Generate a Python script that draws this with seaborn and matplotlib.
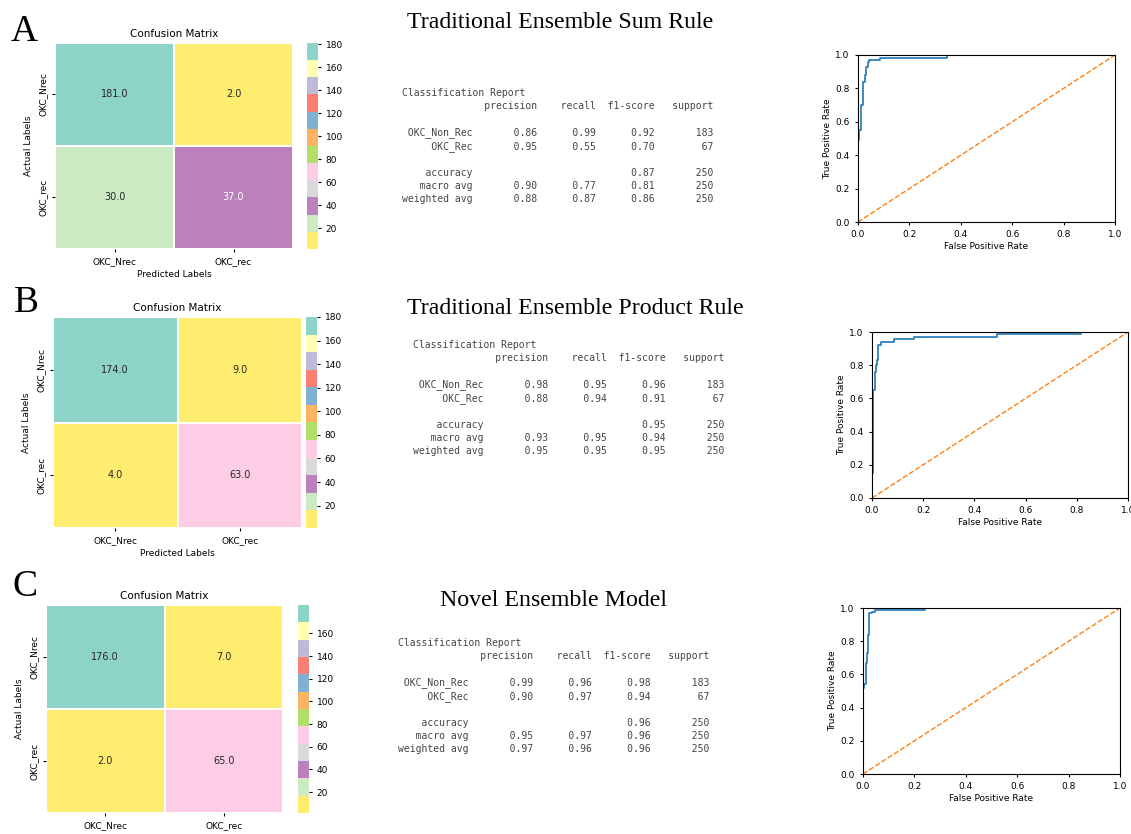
import numpy as np
import pandas as pd
import matplotlib
matplotlib.use("Agg")
import matplotlib.pyplot as plt
import seaborn as sns

# ---- data ----
class_ticks = ["OKC_Nrec", "OKC_rec"]
report_names = ["OKC_Non_Rec", "OKC_Rec"]
panel_titles = ["Traditional Ensemble Sum Rule",
                "Traditional Ensemble Product Rule",
                "Novel Ensemble Model"]
panel_letters = ["A", "B", "C"]

cm_sum = [[181, 2], [30, 37]]
cm_prod = [[174, 9], [4, 63]]
cm_novel = [[176, 7], [2, 65]]

# colour-bar ranges as they appear on each bar
crange_sum = (2, 181)
crange_prod = (1, 180)
crange_novel = (1.5, 185)

cbar_ticks_sum = [20, 40, 60, 80, 100, 120, 140, 160, 180]
cbar_ticks_prod = [20, 40, 60, 80, 100, 120, 140, 160, 180]
cbar_ticks_novel = [20, 40, 60, 80, 100, 120, 140, 160]

# precision / recall / f1 per class, then accuracy, macro, weighted
prec_sum = [0.86, 0.95]
rec_sum = [0.99, 0.55]
f1_sum = [0.92, 0.70]
acc_sum = 0.87
macro_sum = [0.90, 0.77, 0.81]
weighted_sum = [0.88, 0.87, 0.86]

prec_prod = [0.98, 0.88]
rec_prod = [0.95, 0.94]
f1_prod = [0.96, 0.91]
acc_prod = 0.95
macro_prod = [0.93, 0.95, 0.94]
weighted_prod = [0.95, 0.95, 0.95]

prec_novel = [0.99, 0.90]
rec_novel = [0.96, 0.97]
f1_novel = [0.98, 0.94]
acc_novel = 0.96
macro_novel = [0.95, 0.97, 0.96]
weighted_novel = [0.97, 0.96, 0.96]

support = [183, 67]

# ROC curves (corner points)
fpr_sum = [0, 0, 0.005, 0.005, 0.01, 0.01, 0.02, 0.02, 0.027, 0.027, 0.033, 0.033,
           0.038, 0.038, 0.044, 0.044, 0.085, 0.085, 0.345, 0.345, 1.0]
tpr_sum = [0, 0.49, 0.49, 0.55, 0.55, 0.70, 0.70, 0.84, 0.84, 0.88, 0.88, 0.93,
           0.93, 0.96, 0.96, 0.97, 0.97, 0.985, 0.985, 1.0, 1.0]

fpr_prod = [0, 0, 0.005, 0.005, 0.01, 0.01, 0.015, 0.015, 0.02, 0.02, 0.025, 0.025,
            0.035, 0.035, 0.085, 0.085, 0.165, 0.165, 0.49, 0.49, 0.815, 0.815, 1.0]
tpr_prod = [0, 0.15, 0.15, 0.65, 0.65, 0.76, 0.76, 0.80, 0.80, 0.83, 0.83, 0.92,
            0.92, 0.94, 0.94, 0.955, 0.955, 0.97, 0.97, 0.985, 0.985, 1.0, 1.0]

fpr_novel = [0, 0, 0.005, 0.005, 0.01, 0.01, 0.015, 0.015, 0.018, 0.018, 0.022, 0.022,
             0.035, 0.035, 0.045, 0.045, 0.24, 0.24, 1.0]
tpr_novel = [0, 0.52, 0.52, 0.54, 0.54, 0.67, 0.67, 0.73, 0.73, 0.84, 0.84, 0.97,
             0.97, 0.975, 0.975, 0.985, 0.985, 1.0, 1.0]

W, H = 1131, 834
fig = plt.figure(figsize=(W / 100, H / 100), dpi=100)


def box(l, t, r, b):
    return [l / W, 1 - b / H, (r - l) / W, (b - t) / H]


def report_text(prec, rec, f1, acc, macro, weighted):
    lines = ["Classification Report"]
    lines.append("{:>12s} ".format("") + "".join(" {:>9}".format(h) for h in
                 ["precision", "recall", "f1-score", "support"]))
    lines.append("")
    for i, name in enumerate(report_names):
        lines.append("{:>12s} ".format(name) +
                     " {:>9.2f} {:>9.2f} {:>9.2f}".format(prec[i], rec[i], f1[i]) +
                     " {:>9}".format(support[i]))
    lines.append("")
    total = sum(support)
    lines.append("{:>12s} ".format("accuracy") + " " * 20 +
                 " {:>9.2f}".format(acc) + " {:>9}".format(total))
    lines.append("{:>12s} ".format("macro avg") +
                 " {:>9.2f} {:>9.2f} {:>9.2f}".format(*macro) + " {:>9}".format(total))
    lines.append("{:>12s} ".format("weighted avg") +
                 " {:>9.2f} {:>9.2f} {:>9.2f}".format(*weighted) + " {:>9}".format(total))
    return "\n".join(lines)


panels = [
    dict(cm=cm_sum, crange=crange_sum, ticks=cbar_ticks_sum,
         hm=(55, 43, 293, 249), cb=(307, 43, 318, 249),
         roc=(858, 55, 1115, 222), fpr=fpr_sum, tpr=tpr_sum,
         rep=report_text(prec_sum, rec_sum, f1_sum, acc_sum, macro_sum, weighted_sum),
         rep_xy=(402, 88), title_xy=(560, 22), letter_xy=(11, 41)),
    dict(cm=cm_prod, crange=crange_prod, ticks=cbar_ticks_prod,
         hm=(53, 317, 302, 528), cb=(306, 317, 317, 528),
         roc=(872, 332, 1128, 498), fpr=fpr_prod, tpr=tpr_prod,
         rep=report_text(prec_prod, rec_prod, f1_prod, acc_prod, macro_prod, weighted_prod),
         rep_xy=(413, 340), title_xy=(575, 309), letter_xy=(14, 312)),
    dict(cm=cm_novel, crange=crange_novel, ticks=cbar_ticks_novel,
         hm=(46, 605, 283, 813), cb=(298, 605, 309, 813),
         roc=(863, 608, 1120, 774), fpr=fpr_novel, tpr=tpr_novel,
         rep=report_text(prec_novel, rec_novel, f1_novel, acc_novel, macro_novel, weighted_novel),
         rep_xy=(398, 638), title_xy=(553, 600), letter_xy=(12, 596)),
]

for i, p in enumerate(panels):
    # confusion matrix heatmap
    ax = fig.add_axes(box(*p["hm"]))
    cax = fig.add_axes(box(*p["cb"]))
    df = pd.DataFrame(p["cm"], index=class_ticks, columns=class_ticks)
    sns.heatmap(df, annot=True, fmt=".1f", cmap="Set3_r", linewidths=1.2,
                linecolor="white", vmin=p["crange"][0], vmax=p["crange"][1],
                ax=ax, cbar_ax=cax, annot_kws={"size": 7})
    ax.set_title("Confusion Matrix", fontsize=7.5, pad=4)
    ax.set_xlabel("Predicted Labels", fontsize=6.5, labelpad=3)
    ax.set_ylabel("Actual Labels", fontsize=6.5, labelpad=4)
    ax.tick_params(labelsize=6.5, length=2)
    ax.set_yticklabels(class_ticks, rotation=90, va="center")
    cax.set_yticks(p["ticks"])
    cax.tick_params(labelsize=6.5, length=2)

    # classification report
    rx, ry = p["rep_xy"]
    fig.text(rx / W, 1 - ry / H, p["rep"], family="DejaVu Sans Mono", fontsize=7.05,
             color="#444444", va="top", ha="left", linespacing=1.38)

    # panel titles and letters
    tx, ty = p["title_xy"]
    fig.text(tx / W, 1 - ty / H, panel_titles[i], family="Liberation Serif",
             fontsize=17.2, ha="center", va="center")
    lx, ly = p["letter_xy"]
    fig.text(lx / W, 1 - ly / H, panel_letters[i], family="Liberation Serif",
             fontsize=27, ha="left", va="baseline")

    # ROC curve
    rax = fig.add_axes(box(*p["roc"]))
    sns.lineplot(x=p["fpr"], y=p["tpr"], sort=False, estimator=None, ax=rax,
                 color="#1f77b4", linewidth=1.2)
    sns.lineplot(x=[0, 1], y=[0, 1], ax=rax, color="#ff7f0e", linestyle="--",
                 linewidth=1.0)
    rax.set_xlim(0, 1)
    rax.set_ylim(0, 1)
    rax.set_xticks(np.arange(0, 1.01, 0.2))
    rax.set_yticks(np.arange(0, 1.01, 0.2))
    rax.tick_params(labelsize=6.5, length=2.5)
    rax.set_xlabel("False Positive Rate", fontsize=6.5, labelpad=2)
    rax.set_ylabel("True Positive Rate", fontsize=6.5, labelpad=2)

fig.savefig("out.png", dpi=100)
